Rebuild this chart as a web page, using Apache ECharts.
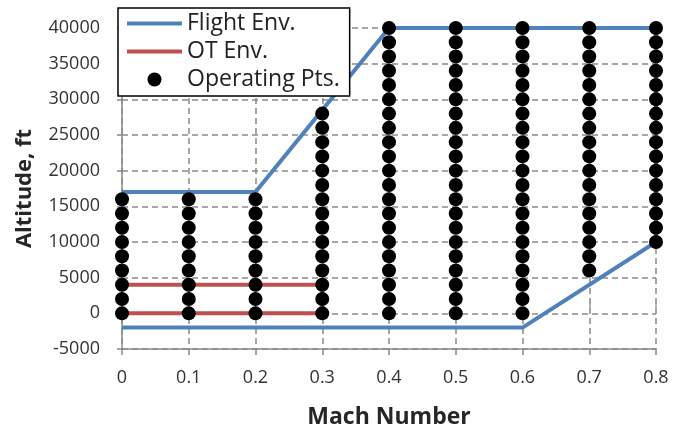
<!DOCTYPE html>
<html><head><meta charset="utf-8">
<script src="https://cdn.jsdelivr.net/npm/echarts@6/dist/echarts.min.js"></script>
<style>html,body{margin:0;padding:0;background:#fff}#c{width:683px;height:428px}</style>
</head><body><div id="c"></div>
<script>
// Flight envelope boundary (Mach, altitude ft)
const flightEnvMach = [0, 0.2, 0.4, 0.8, 0.8, 0.6, 0];
const flightEnvAlt  = [17000, 17000, 40000, 40000, 10000, -2000, -2000];
// OT envelope
const otEnvMach = [0, 0.3, 0.3, 0];
const otEnvAlt  = [4000, 4000, 0, 0];
// Operating points: altitudes per Mach column
const opMach = [0, 0.1, 0.2, 0.3, 0.4, 0.5, 0.6, 0.7, 0.8];
const altLow16 = [0, 2000, 4000, 6000, 8000, 10000, 12000, 14000, 16000];
const altTo28 = [0, 2000, 4000, 6000, 8000, 10000, 12000, 14000, 16000, 18000, 20000, 22000, 24000, 26000, 28000];
const altTo40 = [0, 2000, 4000, 6000, 8000, 10000, 12000, 14000, 16000, 18000, 20000, 22000, 24000, 26000, 28000, 30000, 32000, 34000, 36000, 38000, 40000];
const alt6To40 = [6000, 8000, 10000, 12000, 14000, 16000, 18000, 20000, 22000, 24000, 26000, 28000, 30000, 32000, 34000, 36000, 38000, 40000];
const alt10To40 = [10000, 12000, 14000, 16000, 18000, 20000, 22000, 24000, 26000, 28000, 30000, 32000, 34000, 36000, 38000, 40000];
const opAltCols = [altLow16, altLow16, altLow16, altTo28, altTo40, altTo40, altTo40, alt6To40, alt10To40];
const xTicks = [0, 0.1, 0.2, 0.3, 0.4, 0.5, 0.6, 0.7, 0.8];
const yTicks = [-5000, 0, 5000, 10000, 15000, 20000, 25000, 30000, 35000, 40000];

const flightData = flightEnvMach.map((m, i) => [m, flightEnvAlt[i]]);
const otData = otEnvMach.map((m, i) => [m, otEnvAlt[i]]);
const opData = [];
opMach.forEach((m, i) => opAltCols[i].forEach(a => opData.push([m, a])));

const FONT = '"Open Sans", "Noto Sans", sans-serif';
const gridCol = '#8a8a8a';
// legend line icon: 4px bar centred in a 55x14 box (tiny corner marks fix the bounding box)
const lineIcon = 'path://M0,0L0.01,0L0,0.01Z M0,5H55V9H0Z M55,14L54.99,14L55,13.99Z';
const chart = echarts.init(document.getElementById('c'), null, {renderer: 'canvas'});
chart.setOption({
  animation: false,
  backgroundColor: '#fff',
  grid: {left: 122, right: 27, top: 28, bottom: 79, containLabel: false, outerBoundsMode: 'none'},
  legend: {
    orient: 'vertical', left: 118, top: 8,
    backgroundColor: '#fff', borderColor: '#000', borderWidth: 1.5,
    padding: [4, 10, 5, 9], itemGap: 5, itemWidth: 55, itemHeight: 14,
    textStyle: {fontFamily: FONT, fontSize: 23, color: '#222'},
    data: [
      {name: 'Flight Env.', icon: lineIcon, itemStyle: {color: '#4F81BD'}},
      {name: 'OT Env.', icon: lineIcon, itemStyle: {color: '#C0504D'}},
      {name: 'Operating Pts.', icon: 'circle', itemStyle: {color: '#000'}}
    ]
  },
  xAxis: [{
    type: 'value', min: 0, max: 0.8, interval: 0.1,
    name: 'Mach Number', nameLocation: 'middle', nameGap: 57,
    nameTextStyle: {fontFamily: FONT, fontSize: 23, fontWeight: 'bold', color: '#262626'},
    axisLine: {show: true, onZero: false, lineStyle: {color: gridCol, width: 1.5}},
    axisTick: {show: true, length: 6, lineStyle: {color: gridCol, width: 1.5}},
    axisLabel: {fontFamily: FONT, fontSize: 18, color: '#333', margin: 20,
      formatter: v => { const t = xTicks.find(x => Math.abs(x - v) < 1e-9); return t === undefined ? '' : String(t); }},
    splitLine: {show: true, lineStyle: {color: gridCol, type: [6, 4], width: 1.5}}
  }, {
    type: 'value', min: 0, max: 0.8, interval: 0.1, position: 'top',
    axisLine: {show: false}, axisLabel: {show: false}, splitLine: {show: false},
    axisTick: {show: true, length: 14, lineStyle: {color: '#a0a0a0', width: 1.5}}
  }],
  yAxis: {
    type: 'value', min: -5000, max: 40000, interval: 5000,
    name: 'Altitude, ft', nameLocation: 'middle', nameGap: 86, nameRotate: 90,
    nameTextStyle: {fontFamily: FONT, fontSize: 22, fontWeight: 'bold', color: '#262626'},
    axisLine: {show: true, onZero: false, lineStyle: {color: gridCol, width: 1.5}},
    axisTick: {show: true, length: 5, lineStyle: {color: gridCol, width: 1.5}},
    axisLabel: {fontFamily: FONT, fontSize: 18, color: '#333', margin: 22,
      formatter: v => yTicks.includes(v) ? String(v) : ''},
    splitLine: {show: true, lineStyle: {color: gridCol, type: [6, 4], width: 1.5}}
  },
  series: [{
    name: 'Flight Env.', type: 'line', data: flightData, symbol: 'none', showSymbol: false,
    lineStyle: {color: '#4F81BD', width: 4}, itemStyle: {color: '#4F81BD'}, z: 2
  }, {
    name: 'OT Env.', type: 'line', data: otData, symbol: 'none', showSymbol: false,
    lineStyle: {color: '#C0504D', width: 4}, itemStyle: {color: '#C0504D'}, z: 2
  }, {
    name: 'Operating Pts.', type: 'scatter', data: opData, symbol: 'circle', symbolSize: 14,
    itemStyle: {color: '#000', opacity: 1}, z: 3
  }]
});
</script></body></html>
